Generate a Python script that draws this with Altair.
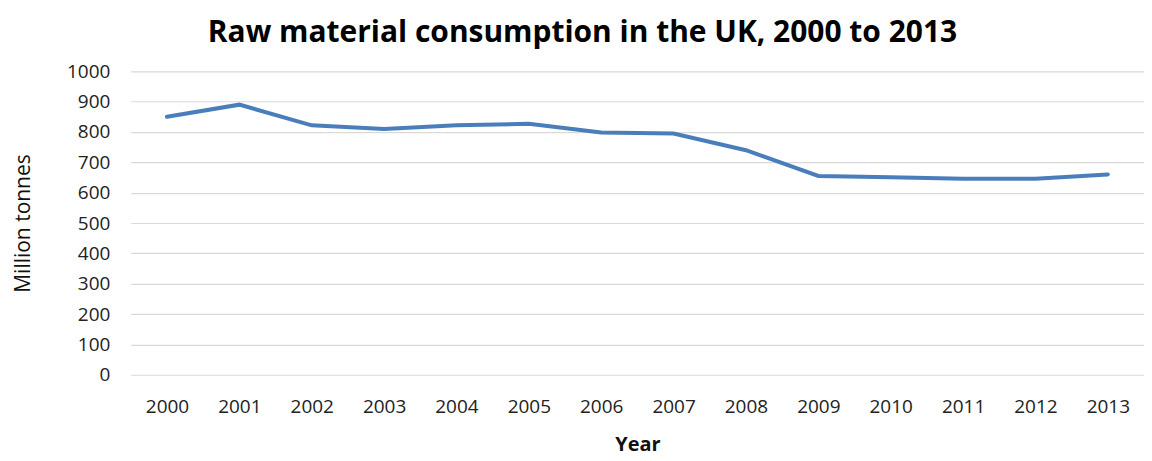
import altair as alt
import pandas as pd

years = ["2000", "2001", "2002", "2003", "2004", "2005", "2006",
         "2007", "2008", "2009", "2010", "2011", "2012", "2013"]
consumption = [850, 890, 822, 810, 822, 827, 798, 795, 740, 655, 651, 646, 646, 660]
y_ticks = [0, 100, 200, 300, 400, 500, 600, 700, 800, 900, 1000]

df = pd.DataFrame({"Year": years, "Million tonnes": consumption})

font = "Open Sans"

chart = alt.Chart(df).mark_line(color="#4A7EBB", strokeWidth=4, strokeCap="round").encode(
    x=alt.X("Year:O", sort=years, title="Year",
            axis=alt.Axis(labelAngle=0, domain=False, ticks=False, grid=False,
                          labelPadding=23, labelFontSize=19, labelColor="#222222",
                          titleFontSize=20, titleFontWeight="bold", titleColor="#111111",
                          titlePadding=18, labelFont=font, titleFont=font)),
    y=alt.Y("Million tonnes:Q", scale=alt.Scale(domain=[0, 1000], nice=False),
            title="Million tonnes",
            axis=alt.Axis(values=y_ticks, format="d", domain=False, ticks=False, grid=True,
                          gridColor="#D9D9D9", gridWidth=1.2,
                          labelPadding=21, labelFontSize=19, labelColor="#222222",
                          titleFontSize=21, titleFontWeight="normal", titleColor="#111111",
                          titlePadding=33, labelFont=font, titleFont=font)),
).properties(
    width=1015, height=304,
    title=alt.TitleParams("Raw material consumption in the UK, 2000 to 2013",
                          font=font, fontSize=30, fontWeight="bold", color="#000000",
                          anchor="middle", dx=-55, offset=14),
    autosize=alt.AutoSizeParams(type="none"),
    padding={"left": 123, "top": 63, "right": 0, "bottom": 84},
).configure_view(stroke=None)

chart.save("out.html", embed_options={"renderer": "svg", "actions": False})
